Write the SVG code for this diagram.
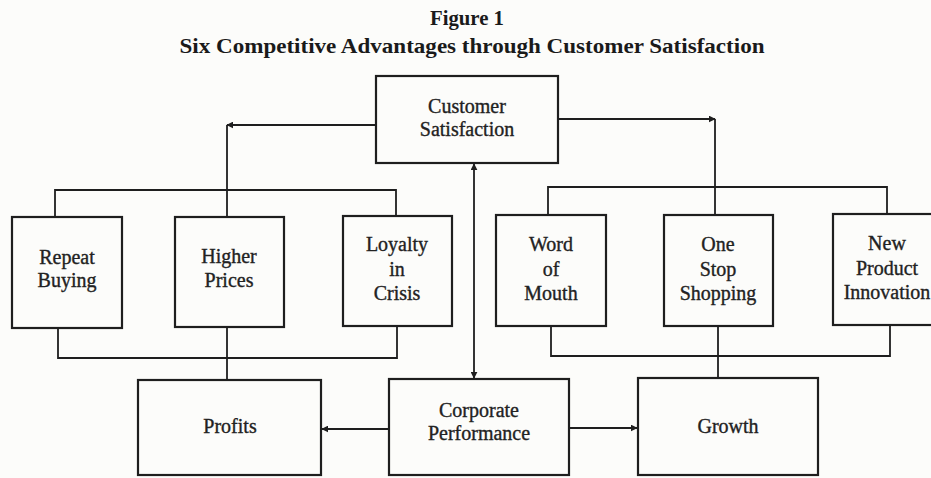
<svg xmlns="http://www.w3.org/2000/svg" width="931" height="478" viewBox="0 0 931 478">
  <style>
    .box { fill: none; stroke: #1e1e1e; stroke-width: 2.2; }
    .wire { fill: none; stroke: #1e1e1e; stroke-width: 1.8; }
    .lbl { font-family: "Liberation Serif", "Times New Roman", serif; font-size: 20px; fill: #222; stroke: #222; stroke-width: 0.35; text-anchor: middle; }
    .title { font-family: "Liberation Serif", "Times New Roman", serif; font-weight: bold; font-size: 22px; fill: #1a1a1a; text-anchor: middle; }
  </style>
  <defs>
    <marker id="arrow" viewBox="0 0 10 10" refX="9" refY="5" markerWidth="7" markerHeight="7" markerUnits="userSpaceOnUse" orient="auto">
      <path d="M0,0 L10,5 L0,10 z" fill="#1e1e1e"/>
    </marker>
  </defs>

  <rect width="931" height="478" fill="#fcfcfa"/>

  <!-- heading -->
  <text class="title" x="467" y="25" textLength="74" lengthAdjust="spacingAndGlyphs">Figure 1</text>
  <text class="title" x="472" y="53" textLength="585" lengthAdjust="spacingAndGlyphs">Six Competitive Advantages through Customer Satisfaction</text>

  <!-- connectors -->
  <g id="connectors">
    <!-- from Customer Satisfaction to the left group -->
    <path class="wire" d="M376,125 H227" marker-end="url(#arrow)"/>
    <path class="wire" d="M227,125 V217"/>
    <!-- from Customer Satisfaction to the right group -->
    <path class="wire" d="M558,119 H715" marker-end="url(#arrow)"/>
    <path class="wire" d="M715,119 V215"/>
    <!-- left group brackets -->
    <path class="wire" d="M55,217 V190 H396 V216"/>
    <path class="wire" d="M58,328 V358 H397 V326"/>
    <path class="wire" d="M227,327 V380"/>
    <!-- right group brackets -->
    <path class="wire" d="M548,215 V187 H887 V214"/>
    <path class="wire" d="M551,326 V356 H890 V325"/>
    <path class="wire" d="M718,326 V378"/>
    <!-- Customer Satisfaction <-> Corporate Performance -->
    <path class="wire" d="M474,185 V164" marker-end="url(#arrow)"/>
    <path class="wire" d="M474,185 V378" marker-end="url(#arrow)"/>
    <!-- Corporate Performance to Profits and Growth -->
    <path class="wire" d="M389,429 H322" marker-end="url(#arrow)"/>
    <path class="wire" d="M569,428 H637" marker-end="url(#arrow)"/>
  </g>

  <g id="customer-satisfaction">
    <rect class="box" x="376" y="76" width="182" height="87"/>
    <text class="lbl" x="467" y="113">Customer</text>
    <text class="lbl" x="467" y="136">Satisfaction</text>
  </g>

  <g id="repeat-buying">
    <rect class="box" x="12" y="217" width="110" height="111"/>
    <text class="lbl" x="67" y="264">Repeat</text>
    <text class="lbl" x="67" y="287">Buying</text>
  </g>

  <g id="higher-prices">
    <rect class="box" x="175" y="217" width="109" height="110"/>
    <text class="lbl" x="229" y="263">Higher</text>
    <text class="lbl" x="229" y="287">Prices</text>
  </g>

  <g id="loyalty-in-crisis">
    <rect class="box" x="343" y="216" width="109" height="110"/>
    <text class="lbl" x="397" y="251">Loyalty</text>
    <text class="lbl" x="397" y="276">in</text>
    <text class="lbl" x="397" y="300">Crisis</text>
  </g>

  <g id="word-of-mouth">
    <rect class="box" x="496" y="215" width="110" height="111"/>
    <text class="lbl" x="551" y="251">Word</text>
    <text class="lbl" x="551" y="276">of</text>
    <text class="lbl" x="551" y="300">Mouth</text>
  </g>

  <g id="one-stop-shopping">
    <rect class="box" x="664" y="215" width="109" height="111"/>
    <text class="lbl" x="718" y="251">One</text>
    <text class="lbl" x="718" y="276">Stop</text>
    <text class="lbl" x="718" y="300">Shopping</text>
  </g>

  <g id="new-product-innovation">
    <rect class="box" x="833" y="214" width="110" height="111"/>
    <text class="lbl" x="887" y="250">New</text>
    <text class="lbl" x="887" y="275">Product</text>
    <text class="lbl" x="887" y="299">Innovation</text>
  </g>

  <g id="profits">
    <rect class="box" x="138" y="380" width="183" height="95"/>
    <text class="lbl" x="230" y="433">Profits</text>
  </g>

  <g id="corporate-performance">
    <rect class="box" x="389" y="379" width="180" height="96"/>
    <text class="lbl" x="479" y="417">Corporate</text>
    <text class="lbl" x="479" y="440">Performance</text>
  </g>

  <g id="growth">
    <rect class="box" x="638" y="378" width="180" height="97"/>
    <text class="lbl" x="728" y="433">Growth</text>
  </g>
</svg>
